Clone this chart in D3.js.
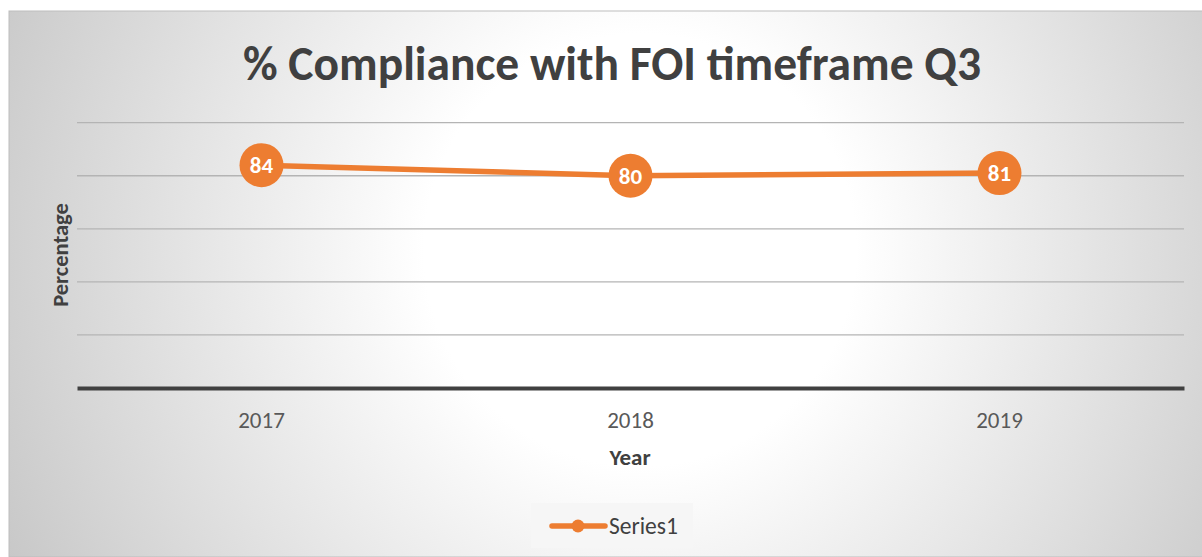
<!DOCTYPE html>
<html>
<head>
<meta charset="utf-8">
<script src="https://cdn.jsdelivr.net/npm/d3@7"></script>
<style>
  body { margin: 0; background: #fff; }
  svg { display: block; }
</style>
</head>
<body>
<div id="chart"></div>
<script>
const years = ["2017", "2018", "2019"];
const compliance = [84, 80, 81];
const gridValues = [20, 40, 60, 80, 100];

const W = 1202, H = 557;
const box = { x: 9, y: 11, w: 1200, h: 546 };
const plot = { left: 77, right: 1184, top: 122.7, bottom: 388 };
const orange = "#ED7D31";
const font = "Carlito, Calibri, Lato, sans-serif";

const svg = d3.select('#chart').append('svg')
    .attr('width', W)
    .attr('height', H);

// radial background like the office preset
const grad = svg.append('defs').append('radialGradient')
    .attr('id', 'bg')
    .attr('gradientUnits', 'userSpaceOnUse')
    .attr('cx', 640).attr('cy', 250)
    .attr('r', 720);
grad.append('stop').attr('offset', '0%').attr('stop-color', '#ffffff');
grad.append('stop').attr('offset', '30%').attr('stop-color', '#ffffff');
grad.append('stop').attr('offset', '100%').attr('stop-color', '#c6c6c6');

svg.append('rect')
    .attr('x', box.x).attr('y', box.y)
    .attr('width', box.w).attr('height', box.h)
    .attr('fill', 'url(#bg)')
    .attr('stroke', '#bdbdbd')
    .attr('stroke-width', 1);

const x = d3.scaleBand()
    .domain(years)
    .range([plot.left, plot.right]);

const y = d3.scaleLinear()
    .domain([0, 100])
    .range([plot.bottom, plot.top]);

// gridlines
svg.append('g')
    .selectAll('line')
    .data(gridValues)
    .join('line')
    .attr('x1', plot.left).attr('x2', plot.right)
    .attr('y1', d => y(d)).attr('y2', d => y(d))
    .attr('stroke', '#b4b4b4')
    .attr('stroke-width', 1.3);

// x axis
const xAxis = svg.append('g')
    .attr('transform', `translate(0,${y(0)})`)
    .call(d3.axisBottom(x).tickSize(0).tickPadding(24));
xAxis.select('.domain')
    .attr('stroke', '#404040')
    .attr('stroke-width', 4);
xAxis.selectAll('text')
    .attr('font-family', font)
    .attr('font-size', 23)
    .attr('fill', '#595959');

// title
svg.append('text')
    .attr('x', 612).attr('y', 80)
    .attr('text-anchor', 'middle')
    .attr('font-family', font)
    .attr('font-weight', 'bold')
    .attr('font-size', 47.5)
    .attr('fill', '#404040')
    .text('% Compliance with FOI timeframe Q3');

// axis titles
svg.append('text')
    .attr('x', 630).attr('y', 465)
    .attr('text-anchor', 'middle')
    .attr('font-family', font)
    .attr('font-weight', 'bold')
    .attr('font-size', 23)
    .attr('fill', '#404040')
    .text('Year');

svg.append('text')
    .attr('transform', 'translate(68,255) rotate(-90)')
    .attr('text-anchor', 'middle')
    .attr('font-family', font)
    .attr('font-weight', 'bold')
    .attr('font-size', 22.5)
    .attr('fill', '#404040')
    .text('Percentage');

// series line
const cx = d => x(d) + x.bandwidth() / 2;
const pts = years.map((d, i) => [cx(d), y(compliance[i])]);

svg.append('path')
    .attr('d', d3.line()(pts))
    .attr('fill', 'none')
    .attr('stroke', orange)
    .attr('stroke-width', 5.5)
    .attr('stroke-linecap', 'round');

const marks = svg.append('g')
    .selectAll('g')
    .data(years)
    .join('g')
    .attr('transform', (d, i) => `translate(${cx(d)},${y(compliance[i])})`);

marks.append('circle')
    .attr('r', 22)
    .attr('fill', orange);

marks.append('text')
    .attr('text-anchor', 'middle')
    .attr('dy', '0.36em')
    .attr('font-family', font)
    .attr('font-weight', 'bold')
    .attr('font-size', 23)
    .attr('fill', '#ffffff')
    .text((d, i) => compliance[i]);

// legend
const legend = svg.append('g');
legend.append('rect')
    .attr('x', 531).attr('y', 503)
    .attr('width', 162).attr('height', 45)
    .attr('fill', '#f6f6f6');
legend.append('line')
    .attr('x1', 552).attr('x2', 605)
    .attr('y1', 526).attr('y2', 526)
    .attr('stroke', orange)
    .attr('stroke-width', 5.5)
    .attr('stroke-linecap', 'round');
legend.append('circle')
    .attr('cx', 578).attr('cy', 526)
    .attr('r', 6.5)
    .attr('fill', orange);
legend.append('text')
    .attr('x', 609).attr('y', 534)
    .attr('font-family', font)
    .attr('font-size', 23.5)
    .attr('fill', '#404040')
    .text('Series1');
</script>
</body>
</html>
